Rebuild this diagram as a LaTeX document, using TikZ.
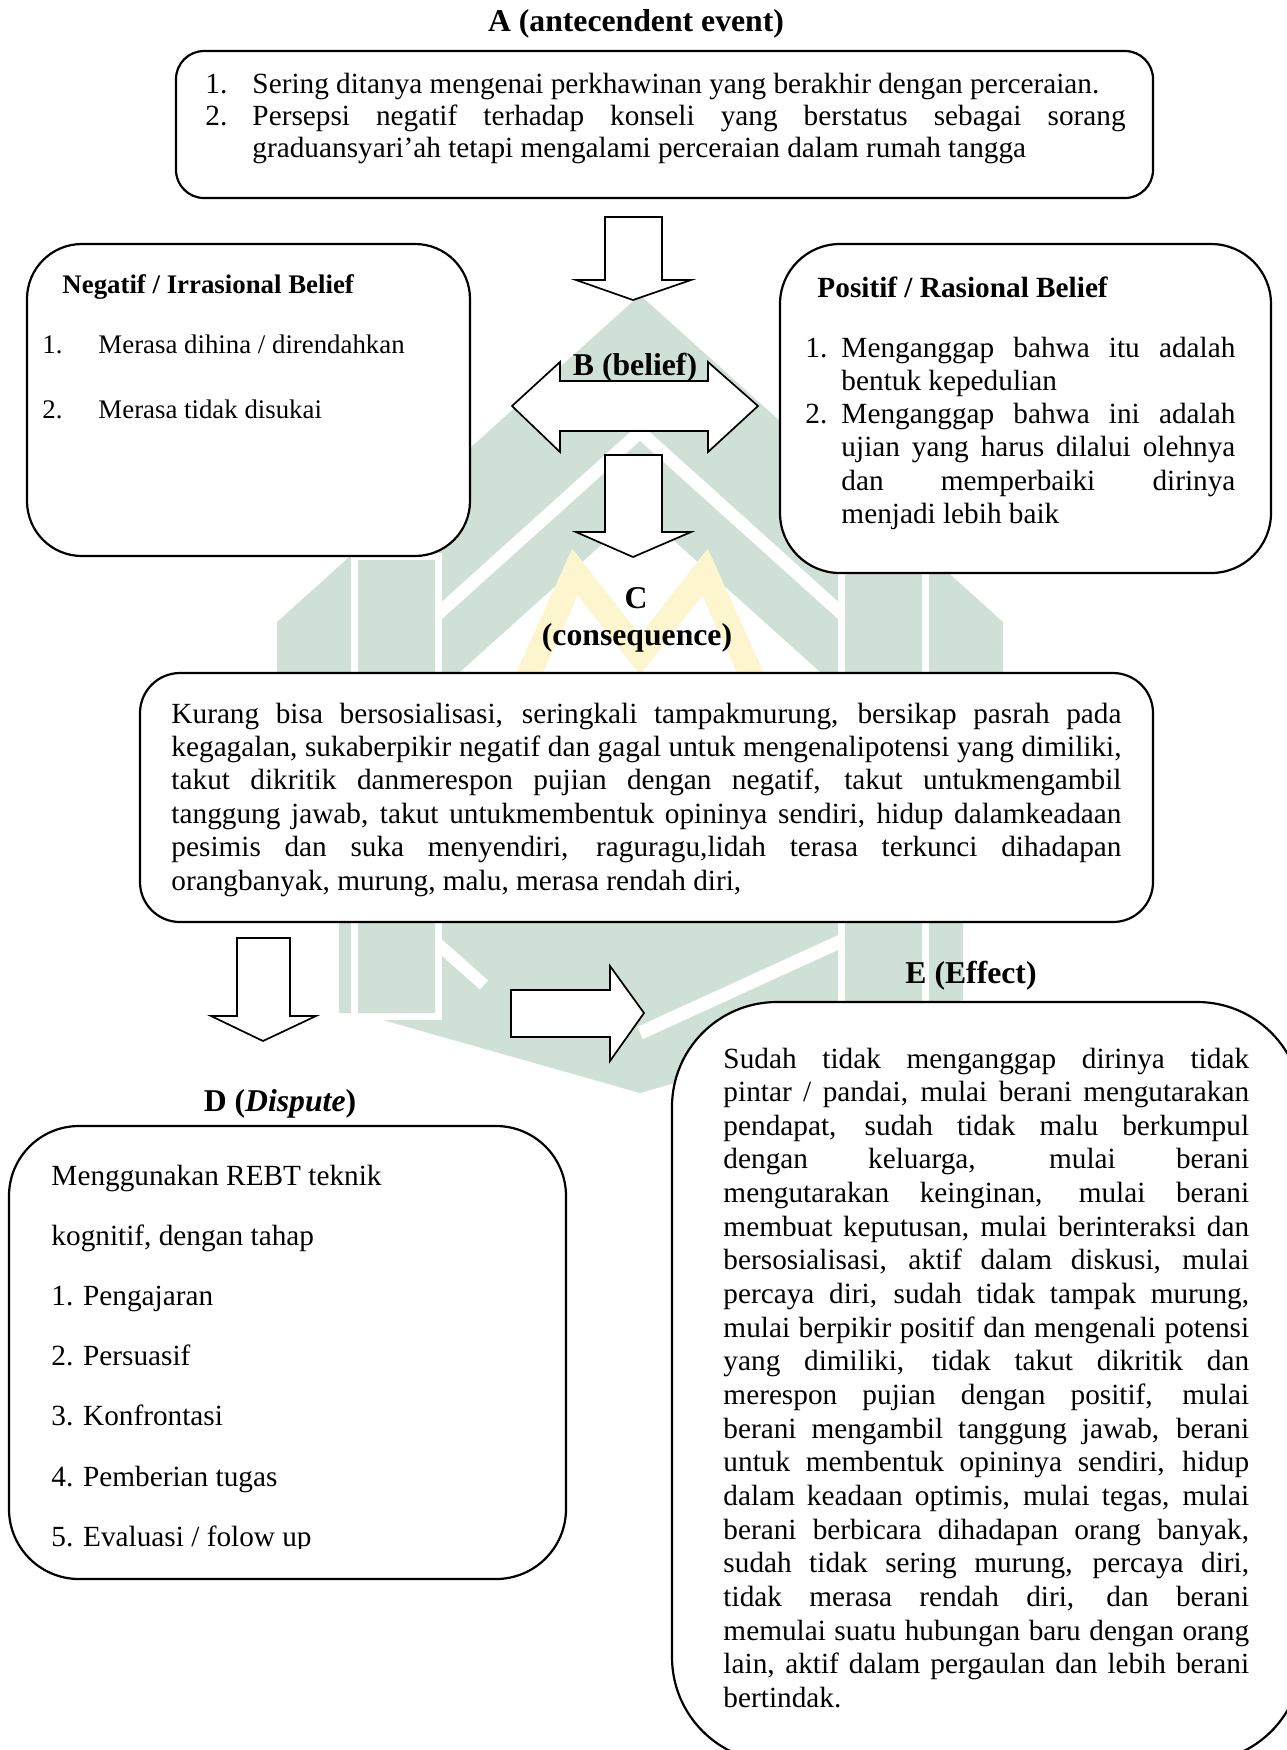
\documentclass[tikz,border=0pt]{standalone}
\usepackage{fontspec}
\setmainfont{Liberation Serif}
\definecolor{wm}{RGB}{207,224,215}
\definecolor{wmy}{RGB}{252,245,205}
\begin{document}
\begin{tikzpicture}[x=0.41pt,y=-0.41pt,
  rbox/.style={draw=black, fill=white, line width=0.9pt},
  barrow/.style={draw=black, fill=white, line width=0.7pt, line join=miter},
  ttl/.style={inner sep=0pt, anchor=base, font=\fontsize{13}{15}\selectfont\bfseries},
  txt/.style={inner sep=0pt, anchor=base west},
  f12/.style={font=\fontsize{12}{13.3}\selectfont},
  f11/.style={font=\fontsize{11}{12.5}\selectfont},
  gap/.style={white, line width=6pt}]
\useasboundingbox (0,0) rectangle (1287,1750);
\fill[white] (0,0) rectangle (1287,1750);

% ---------- faint watermark (logo) ----------
% roof chevron
\fill[wm] (277,622) -- (640,295) -- (1003,622) -- (1003,750) -- (640,423) -- (277,750) -- cycle;
% inner chevron
\fill[wm] (441,620) -- (640,441) -- (839,620) -- (839,689) -- (640,510) -- (441,689) -- cycle;
% bottom chevron
\fill[wm] (339,900) -- (963,900) -- (963,1000) -- (640,1093) -- (358,1013) -- (339,1013) -- cycle;
\draw[white, line width=5.5pt] (872,927) -- (640,1033);
\draw[white, line width=5pt] (421,929) -- (484,985);
% side walls
\draw[gap] (358,560) rectangle (435,1013) (845,560) rectangle (922,1013);
\fill[wm] (358,560) rectangle (435,1013) (845,560) rectangle (922,1013);
% yellow centre figure
\draw[wmy, line width=10pt, line join=miter] (515,705) -- (575,572) -- (640,655) -- (705,572) -- (765,705);

% ---------- boxes ----------
\draw[rbox, rounded corners=11.5pt] (176,51) rectangle (1153,198);
\draw[rbox, rounded corners=22.5pt] (27,244) rectangle (470,556);
\draw[rbox, rounded corners=24.6pt] (780,244) rectangle (1271,573);
\draw[rbox, rounded corners=16.4pt] (140,673) rectangle (1153,922);
\draw[rbox, rounded corners=28.7pt] (9,1126) rectangle (566,1579);
\draw[rbox, rounded corners=43pt] (672,1002) rectangle (1302,1762);

% ---------- block arrows ----------
\draw[barrow] (605,217) -- (662,217) -- (662,280) -- (691,280) -- (633,300) -- (576,280) -- (605,280) -- cycle;
\draw[barrow] (512,406) -- (560,362) -- (560,381) -- (708,381) -- (708,362) -- (758,406) -- (708,452) -- (708,431) -- (560,431) -- (560,452) -- cycle;
\draw[barrow] (605,455) -- (662,455) -- (662,532) -- (691,532) -- (633,557) -- (576,532) -- (605,532) -- cycle;
\draw[barrow] (237,938) -- (290,938) -- (290,1016) -- (316,1016) -- (263,1041) -- (211,1016) -- (237,1016) -- cycle;
\draw[barrow] (511,990) -- (610,990) -- (610,966) -- (644,1013) -- (610,1061) -- (610,1037) -- (511,1037) -- cycle;

% ---------- titles ----------
\node[ttl] (tA) at (636,31) {A (antecendent event)};
\node[ttl] (tB) at (635,375) {B (belief)};
\node[ttl] (tC) at (636,608) {C};
\node[ttl] (tC2) at (637,645) {(consequence)};
\node[ttl] (tD) at (280,1111) {D (\textit{Dispute})};
\node[ttl] (tE) at (971,983) {E (Effect)};

% ---------- A ----------
\node[txt,f12] (a1n) at (205,93) {1.};
\node[txt,f12] (a2n) at (205,125.5) {2.};
\node[txt,f12] (atext) at (252,93) {\vtop{\hsize=358pt
  \hbox{Sering ditanya mengenai perkhawinan yang berakhir dengan perceraian.}
  \hbox to \hsize{Persepsi negatif terhadap konseli yang berstatus sebagai sorang}
  \hbox{graduansyari’ah tetapi mengalami perceraian dalam rumah tangga}}};

% ---------- Negatif ----------
\node[txt, font=\fontsize{11}{12.5}\selectfont\bfseries] (ntitle) at (62,293) {Negatif / Irrasional Belief};
\node[txt,f11] (n1n) at (42,353) {1.};
\node[txt,f11] (n1) at (98,353) {Merasa dihina / direndahkan};
\node[txt,f11] (n2n) at (42,418) {2.};
\node[txt,f11] (n2) at (98,418) {Merasa tidak disukai};

% ---------- Positif ----------
\node[txt, font=\fontsize{12}{13.5}\selectfont\bfseries] (ptitle) at (817,297) {Positif / Rasional Belief};
\node[txt,f12] (p1n) at (805,357) {1.};
\node[txt,f12] (p2n) at (805,423.6) {2.};
\node[txt, font=\fontsize{12}{13.65}\selectfont] (ptext) at (841,357) {\vtop{\hsize=161.5pt
  \hbox to \hsize{Menganggap bahwa itu adalah}
  \hbox{bentuk kepedulian}
  \hbox to \hsize{Menganggap bahwa ini adalah}
  \hbox to \hsize{ujian yang harus dilalui olehnya}
  \hbox to \hsize{dan memperbaiki dirinya}
  \hbox{menjadi lebih baik}}};

% ---------- C ----------
\node[txt, font=\fontsize{12}{13.7}\selectfont] (ctext) at (171,723) {\vtop{\hsize=389.5pt
  \hbox to \hsize{Kurang bisa bersosialisasi, seringkali tampakmurung, bersikap pasrah pada}
  \hbox to \hsize{kegagalan, sukaberpikir negatif dan gagal untuk mengenalipotensi yang dimiliki,}
  \hbox to \hsize{takut dikritik danmerespon pujian dengan negatif, takut untukmengambil}
  \hbox to \hsize{tanggung jawab, takut untukmembentuk opininya sendiri, hidup dalamkeadaan}
  \hbox to \hsize{pesimis dan suka menyendiri, raguragu,lidah terasa terkunci dihadapan}
  \hbox{orangbanyak, murung, malu, merasa rendah diri,}}};

% ---------- D ----------
\begin{scope}
\clip (0,0) rectangle (1287,1548);
\node[txt, font=\fontsize{12}{24.7}\selectfont] (dtext) at (51,1185) {\vtop{\hsize=240pt
  \hbox{Menggunakan REBT teknik}
  \hbox{kognitif, dengan tahap}
  \hbox{1. Pengajaran}
  \hbox{2. Persuasif}
  \hbox{3. Konfrontasi}
  \hbox{4. Pemberian tugas}
  \hbox{5. Evaluasi / folow up}}};
\end{scope}

% ---------- E ----------
\node[txt, font=\fontsize{12}{13.8}\selectfont] (etext) at (723,1068) {\vtop{\hsize=215.5pt
  \hbox to \hsize{Sudah tidak menganggap dirinya tidak}
  \hbox to \hsize{pintar / pandai, mulai berani mengutarakan}
  \hbox to \hsize{pendapat, sudah tidak malu berkumpul}
  \hbox to \hsize{dengan keluarga, mulai berani}
  \hbox to \hsize{mengutarakan keinginan, mulai berani}
  \hbox to \hsize{membuat keputusan, mulai berinteraksi dan}
  \hbox to \hsize{bersosialisasi, aktif dalam diskusi, mulai}
  \hbox to \hsize{percaya diri, sudah tidak tampak murung,}
  \hbox to \hsize{mulai berpikir positif dan mengenali potensi}
  \hbox to \hsize{yang dimiliki, tidak takut dikritik dan}
  \hbox to \hsize{merespon pujian dengan positif, mulai}
  \hbox to \hsize{berani mengambil tanggung jawab, berani}
  \hbox to \hsize{untuk membentuk opininya sendiri, hidup}
  \hbox to \hsize{dalam keadaan optimis, mulai tegas, mulai}
  \hbox to \hsize{berani berbicara dihadapan orang banyak,}
  \hbox to \hsize{sudah tidak sering murung, percaya diri,}
  \hbox to \hsize{tidak merasa rendah diri, dan berani}
  \hbox to \hsize{memulai suatu hubungan baru dengan orang}
  \hbox to \hsize{lain, aktif dalam pergaulan dan lebih berani}
  \hbox{bertindak.}}};
\end{tikzpicture}
\end{document}
